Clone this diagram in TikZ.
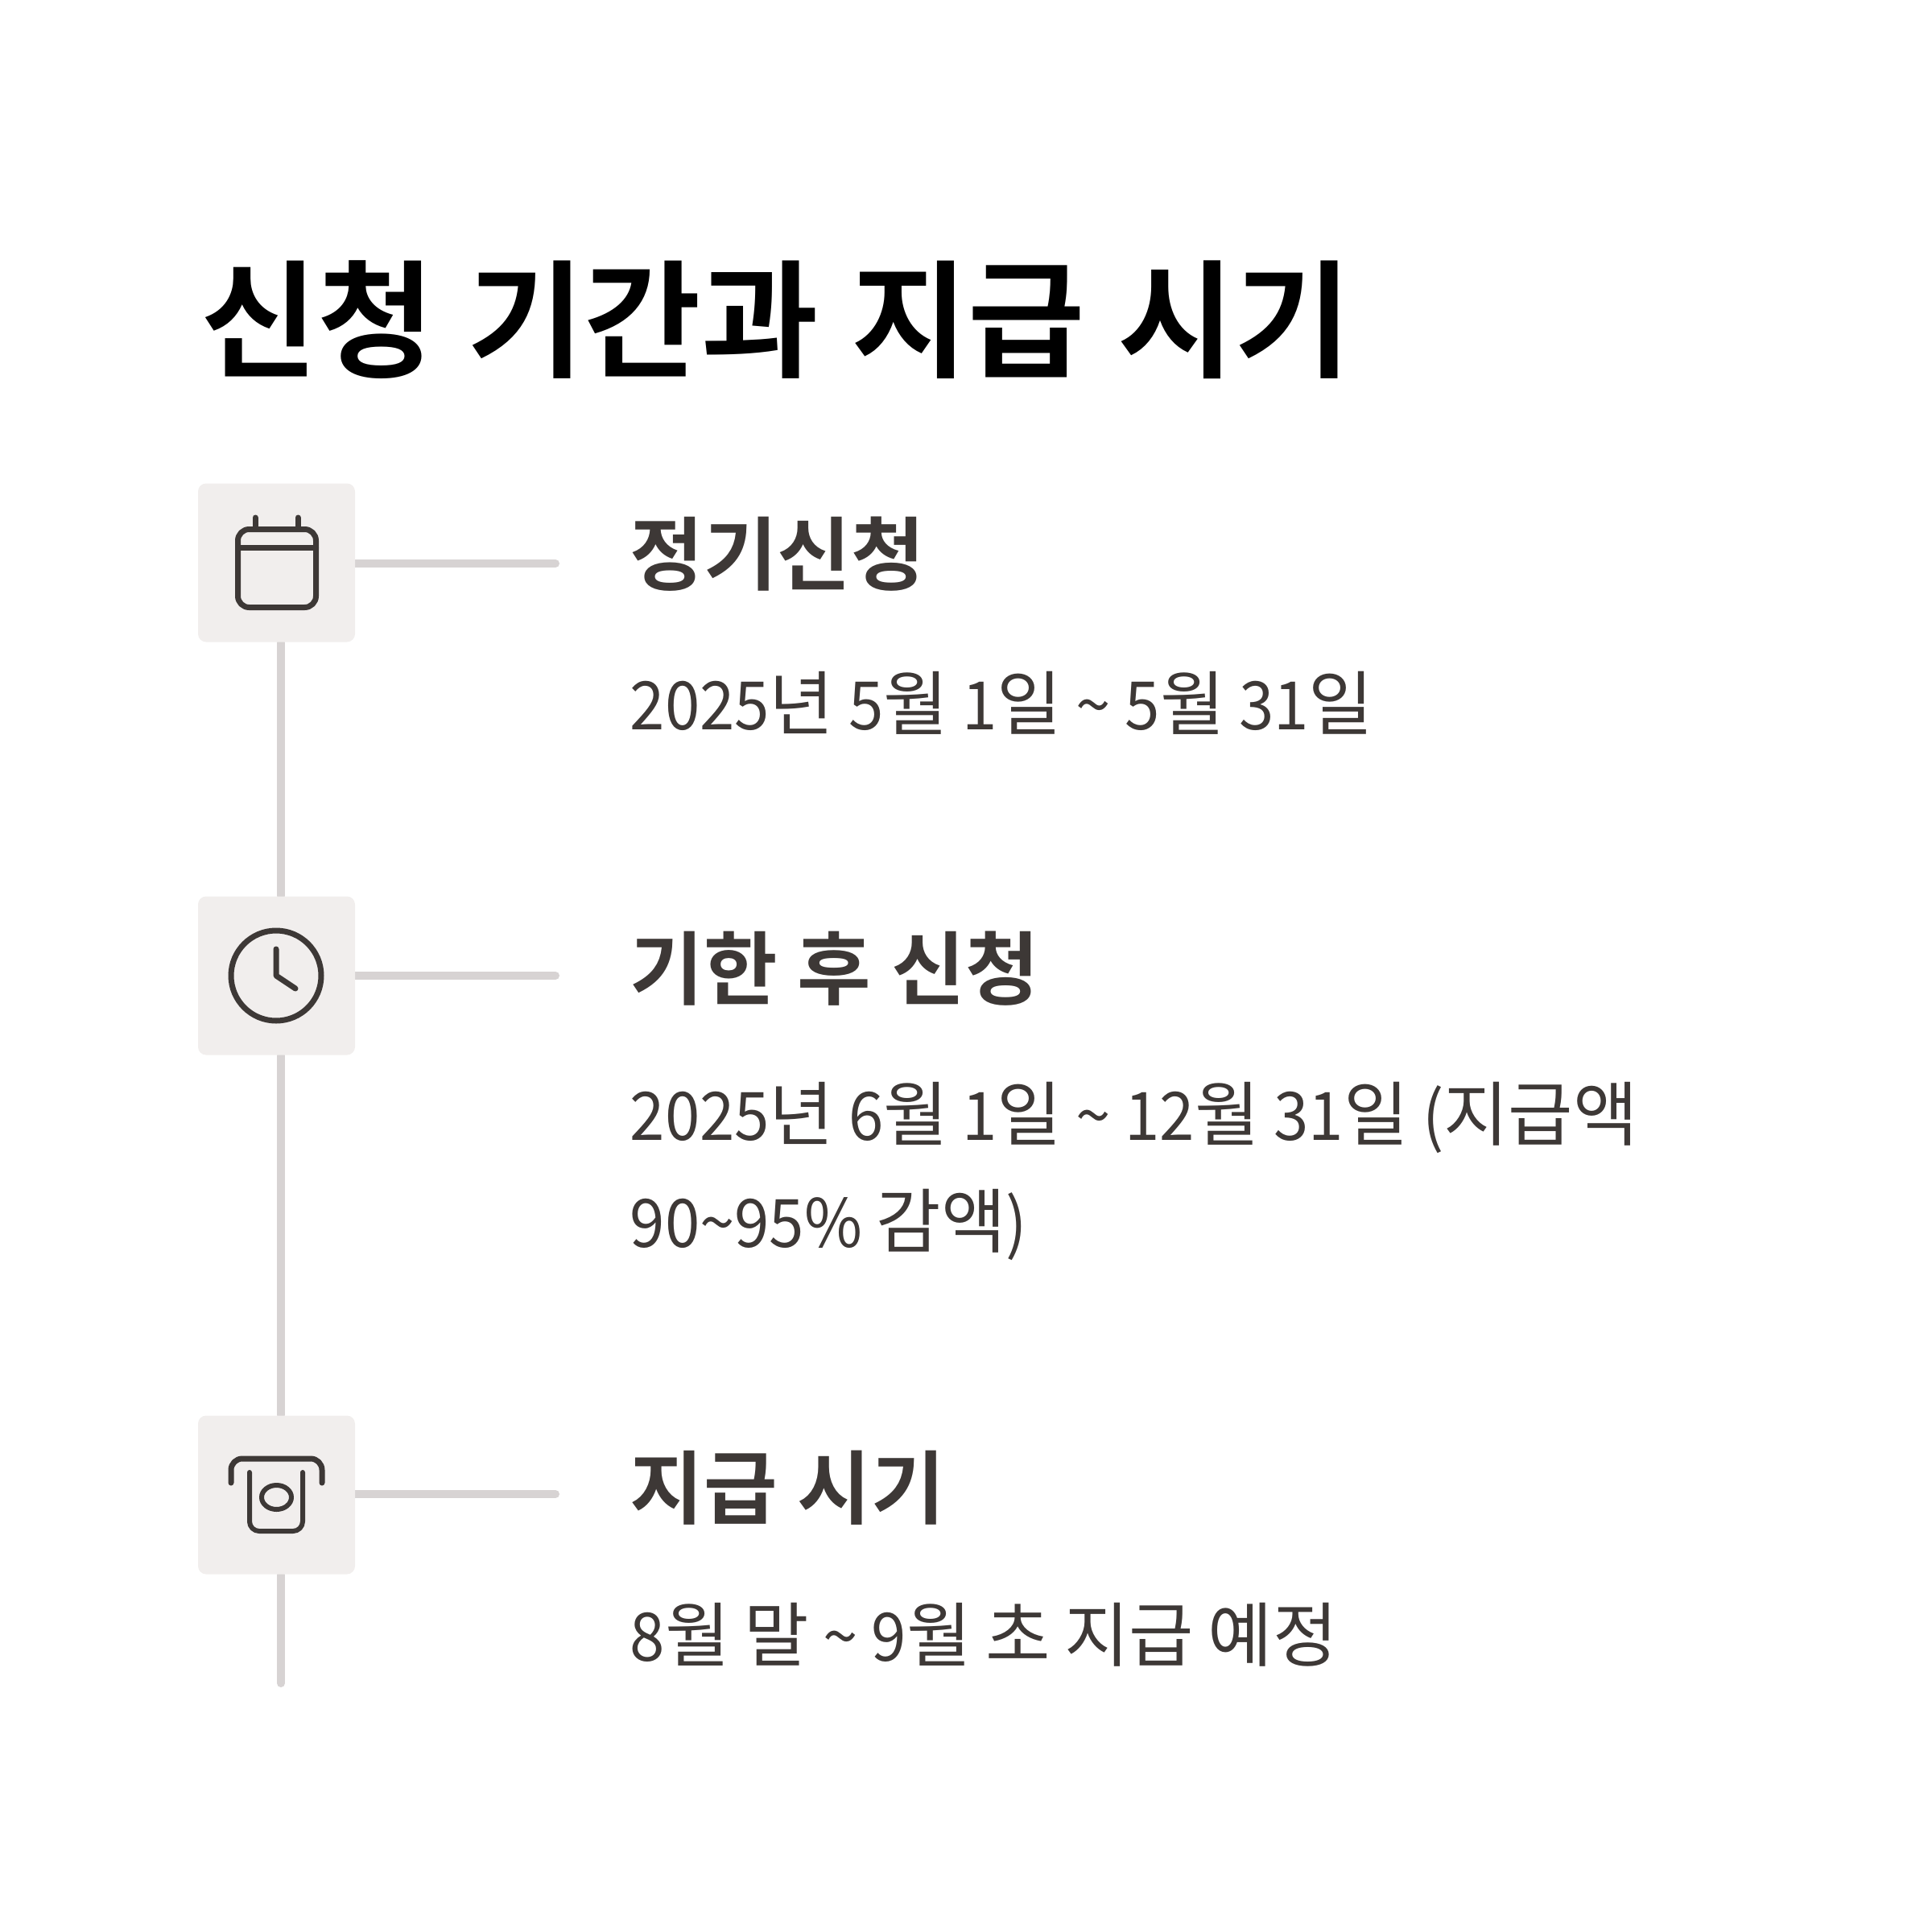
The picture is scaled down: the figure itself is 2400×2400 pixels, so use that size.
\documentclass[tikz,border=0pt]{standalone}
\usepackage{fontspec}
\setmainfont[WordSpace=0.9]{Noto Sans CJK KR}
\newfontfamily\numfont[Scale=0.95,FakeStretch=0.94]{Noto Sans CJK KR}
\newfontfamily\boldwide[WordSpace=1.12]{Noto Sans CJK KR Bold}
\newcommand{\nm}[1]{{\numfont #1}}
\usetikzlibrary{backgrounds}
\definecolor{inkc}{HTML}{3D3836}
\definecolor{boxc}{HTML}{F1EEED}
\definecolor{railc}{HTML}{D7D3D3}
\tikzset{
  iconbox/.style={fill=boxc, rounded corners=1mm, inner sep=0pt, minimum width=19.5mm, minimum height=19.7mm},
  railline/.style={draw=railc, line width=1mm, line cap=round},
  iconline/.style={draw=inkc, line width=0.7mm, line cap=round, line join=round},
  titletext/.style={anchor=base west, inner sep=0pt, font=\fontsize{45}{55}\selectfont\boldwide, text=black},
  headtext/.style={anchor=base west, inner sep=0pt, font=\fontsize{28.3}{33}\selectfont\boldwide, text=inkc},
  bodytext/.style={anchor=base west, inner sep=0pt, align=left, font=\fontsize{24.87}{37.8}\selectfont, text=inkc}
}
\begin{document}
\begin{tikzpicture}[x=0.1mm, y=-0.1mm]
    \useasboundingbox (0,0) rectangle (2400,2400);

    \node[titletext] (title) at (248.5,457) {신청 기간과 지급 시기};

    % Icon boxes
    \node[iconbox] (calbox) at (343.5,699) {};
    \node[iconbox] (clockbox) at (343.5,1212) {};
    \node[iconbox] (paybox) at (343.5,1857) {};

    % Free ends of the connectors
    \coordinate (rail) at (349,0);
    \coordinate (calend) at (690,700);
    \coordinate (clockend) at (690,1212);
    \coordinate (payend) at (690,1856);
    \coordinate (railend) at (349,2091);

    \begin{scope}[on background layer]
        \draw[railline] (calbox.south -| rail) -- (clockbox.north -| rail);
        \draw[railline] (clockbox.south -| rail) -- (paybox.north -| rail);
        \draw[railline] (paybox.south -| rail) -- (railend);
        \draw[railline] (calbox.east |- calend) -- (calend);
        \draw[railline] (clockbox.east |- clockend) -- (clockend);
        \draw[railline] (paybox.east |- payend) -- (payend);
    \end{scope}

    % Calendar
    \draw[iconline, rounded corners=1.4mm] (295.5,657.5) rectangle (392.5,754.5);
    \draw[iconline] (295.5,680) -- (392.5,680);
    \draw[iconline] (317,643) -- (317,657);
    \draw[iconline] (370,643) -- (370,657);

    % Clock
    \draw[iconline] (343,1212) circle (5.6mm);
    \draw[iconline] (343,1179) -- (343,1212) -- (367,1228);

    % Cash slot
    \draw[iconline, rounded corners=1.4mm] (287,1842) -- (287,1812) -- (400,1812) -- (400,1842);
    \draw[iconline, line width=0.6mm, rounded corners=1.2mm] (310,1829) -- (310,1902) -- (376,1902) -- (376,1829);
    \draw[iconline, line width=0.6mm] (343.5,1860) ellipse (1.85mm and 1.5mm);

    % Labels
    \node[headtext] (calhead) at (782,725) {정기신청};
    \node[bodytext] (calbody) at (782,906) {\nm{2025}년 \nm{5}월 \nm{1}일 \nm{\textasciitilde{}} \nm{5}월 \nm{31}일};
    \node[headtext] (clockhead) at (782,1240) {기한 후 신청};
    \node[bodytext] (clockbody) at (782,1549) {\nm{2025}년 \nm{6}월 \nm{1}일 \nm{\textasciitilde{}} \nm{12}월 \nm{31}일 \nm{(}지급액\\\nm{90\textasciitilde{}95\%} 감액\nm{)}};
    \node[headtext] (payhead) at (782,1885) {지급 시기};
    \node[bodytext] (paybody) at (782,2063) {\nm{8}월 말 \nm{\textasciitilde{}} \nm{9}월 초 지급 예정};
\end{tikzpicture}
\end{document}
